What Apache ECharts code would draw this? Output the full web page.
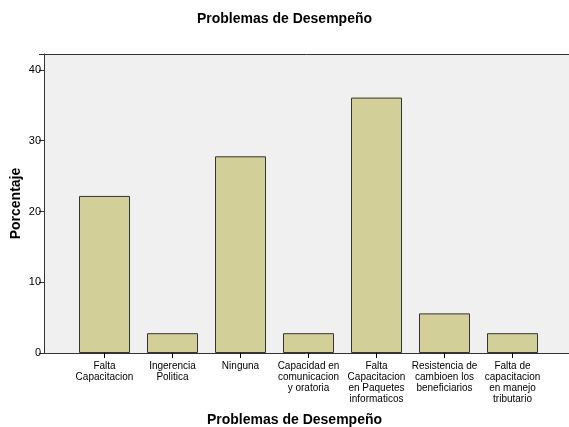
<!DOCTYPE html>
<html>
<head>
<meta charset="utf-8">
<script src="https://cdn.jsdelivr.net/npm/echarts@6/dist/echarts.min.js"></script>
<style>
  html, body { margin: 0; padding: 0; background: #fff; }
  #chart { width: 569px; height: 427px; }
</style>
</head>
<body>
<div id="chart"></div>
<script>
// categorias y porcentajes
const categories = [
  'Falta\nCapacitacion',
  'Ingerencia\nPolitica',
  'Ninguna',
  'Capacidad en\ncomunicacion\ny oratoria',
  'Falta\nCapacitacion\nen Paquetes\ninformaticos',
  'Resistencia de\ncambioen los\nbeneficiarios',
  'Falta de\ncapacitacion\nen manejo\ntributario'
]
const porcentaje = [22.2, 2.8, 27.8, 2.8, 36.1, 5.6, 2.8]
const yTicks = [0, 10, 20, 30, 40]

const font = 'Liberation Sans, Arial, sans-serif'
const yMax = 42.26

let myChart = echarts.init(document.getElementById('chart'))
let option = {
  animation: false,
  title: {
    text: 'Problemas de Desempeño',
    left: 'center',
    top: 7,
    textStyle: { fontFamily: font, fontSize: 14, fontWeight: 'bold', color: '#000' }
  },
  grid: [
    // grid de las barras (bandas de categoria)
    { left: 70.5, right: 22.5, top: 54, bottom: 74, show: false, outerBoundsMode: 'none', containLabel: false },
    // grid de fondo con el marco
    { left: 44, right: 0, top: 54, bottom: 74, show: true, backgroundColor: '#f0f0f0', borderWidth: 0, outerBoundsMode: 'none', containLabel: false }
  ],
  xAxis: [
    {
      type: 'category',
      gridIndex: 0,
      data: categories,
      axisLine: { show: false },
      axisTick: { show: true, alignWithLabel: true, length: 5, lineStyle: { color: '#000' } },
      axisLabel: {
        interval: 0, margin: 8, fontFamily: font, fontSize: 10, lineHeight: 11, color: '#000'
      },
      name: 'Problemas de Desempeño',
      nameLocation: 'middle',
      nameGap: 60,
      nameMoveOverlap: false,
      nameTextStyle: { fontFamily: font, fontSize: 14, fontWeight: 'bold', color: '#000', padding: [0, 0, 0, -28] }
    },
    {
      type: 'value',
      gridIndex: 1,
      min: 0, max: 1,
      axisLine: { show: true, lineStyle: { color: '#333', width: 1 } },
      axisTick: { show: false },
      axisLabel: { show: false },
      splitLine: { show: false }
    },
    {
      type: 'value',
      gridIndex: 1,
      position: 'top',
      min: 0, max: 1,
      axisLine: { show: true, onZero: false, lineStyle: { color: '#333', width: 1 } },
      axisTick: { show: false },
      axisLabel: { show: false },
      splitLine: { show: false }
    }
  ],
  yAxis: [
    {
      type: 'value',
      gridIndex: 0,
      min: 0, max: yMax,
      show: false
    },
    {
      type: 'value',
      gridIndex: 1,
      min: 0, max: yMax,
      interval: 10,
      axisLine: { show: true, lineStyle: { color: '#333', width: 1 } },
      axisTick: { show: true, length: 5, lineStyle: { color: '#333' } },
      axisLabel: {
        margin: 3, fontFamily: font, fontSize: 11, color: '#000',
        formatter: v => (yTicks.indexOf(v) >= 0 ? String(v) : '')
      },
      splitLine: { show: false },
      name: 'Porcentaje',
      nameLocation: 'middle',
      nameGap: 21,
      nameMoveOverlap: false,
      nameTextStyle: { fontFamily: font, fontSize: 14, fontWeight: 'bold', color: '#000' }
    }
  ],
  series: [{
    type: 'bar',
    xAxisIndex: 0,
    yAxisIndex: 0,
    data: porcentaje,
    barWidth: 51,
    itemStyle: { color: '#d3cf98', borderColor: '#333', borderWidth: 1 },
    z: 3
  }]
}
myChart.setOption(option)
</script>
</body>
</html>
